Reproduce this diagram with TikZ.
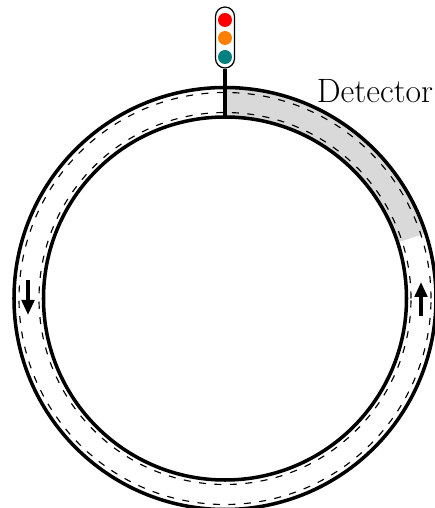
\documentclass[tikz,border=0pt]{standalone}
\usepackage{xcolor}
\definecolor{ink}{HTML}{000000}
\definecolor{detgray}{HTML}{D9D9D9}
\definecolor{sigred}{HTML}{FF0000}
\definecolor{sigorange}{HTML}{FF8000}
\definecolor{sigteal}{HTML}{008080}
\usetikzlibrary{positioning,arrows.meta}

\begin{document}
\begin{tikzpicture}[
  font=\fontsize{19.2}{22}\selectfont,
  wall/.style={draw=ink, line width=2pt},
  lane/.style={draw=ink, line width=0.65pt, dash pattern=on 4pt off 4.8pt},
  lamp/.style={circle, inner sep=0pt, minimum size=0.28cm},
  signalbox/.style={draw=ink, line width=0.7pt, fill=white, rounded corners=0.19cm,
                    minimum width=0.38cm, minimum height=1.22cm, inner sep=0pt},
  post/.style={ink, line width=2pt},
  flow/.style={-{Triangle[length=0.3cm, width=0.25cm]}, ink, line width=2pt}
]
  \useasboundingbox (-4.5,-4.19) rectangle (4.2,5.97);

  % detector stretch
  \fill[detgray] (90:3.63) arc[start angle=90, end angle=18, radius=3.63]
    -- (18:4.22) arc[start angle=18, end angle=90, radius=4.22] -- cycle;

  \draw[lane] (0,0) circle[radius=4.12];
  \draw[lane] (0,0) circle[radius=3.72];
  \draw[wall] (0,0) circle[radius=4.22];
  \draw[wall] (0,0) circle[radius=3.63];

  \node[signalbox] (signal) at (0,5.22) {};
  \node[lamp, fill=sigred] (red) at (0,5.57) {};
  \node[lamp, fill=sigorange] (orange) at (0,5.21) {};
  \node[lamp, fill=sigteal] (teal) at (0,4.83) {};

  \coordinate (stop) at (90:3.63);
  \draw[post] (signal.south) -- (stop);

  \node[anchor=base east, inner sep=0pt] (detector) at (4.17,3.91) {Detector};

  \coordinate (upfrom) at (3.92,-0.36);
  \coordinate (upto) at (3.92,0.33);
  \coordinate (downfrom) at (-3.94,0.37);
  \coordinate (downto) at (-3.94,-0.33);
  \draw[flow] (upfrom) -- (upto);
  \draw[flow] (downfrom) -- (downto);
\end{tikzpicture}
\end{document}
